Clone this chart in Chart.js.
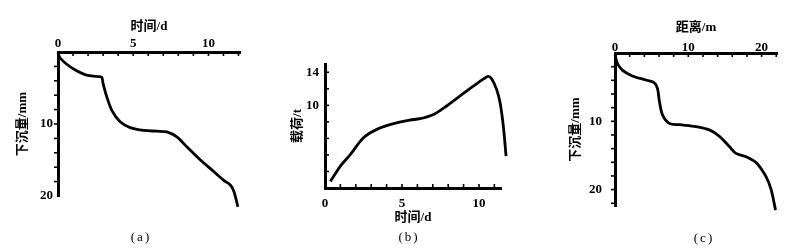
<!DOCTYPE html>
<html>
<head>
<meta charset="utf-8">
<script src="https://cdn.jsdelivr.net/npm/chart.js@4/dist/chart.umd.min.js"></script>
<style>
  html, body { margin: 0; padding: 0; background: #fff; }
  #wrap { position: relative; width: 801px; height: 251px; overflow: hidden; }
  canvas { position: absolute; top: 0; }
  .cap { position: absolute; font: 13px "Liberation Serif", serif; letter-spacing: 2px; transform: translate(-50%, -50%); }
</style>
</head>
<body>
<div id="wrap">
  <canvas id="ca" width="267" height="251" style="left:0"></canvas>
  <canvas id="cb" width="267" height="251" style="left:267px"></canvas>
  <canvas id="cc" width="267" height="251" style="left:534px"></canvas>
  <div class="cap" style="left:141px;top:237px">(a)</div>
  <div class="cap" style="left:409px;top:237px">(b)</div>
  <div class="cap" style="left:704px;top:238px">(c)</div>
</div>
<script>
"use strict";

// (a) settlement vs time
const timeA   = [0, 0.13, 0.58, 1.24, 1.9, 2.58, 2.9, 3.0, 3.24, 3.58, 4.13, 4.8, 5.7, 6.58, 7.24, 7.9, 8.58, 9.47, 10.13, 11.0, 11.47, 11.7, 11.96];
const settleA = [0.1, 0.8, 1.7, 2.6, 3.2, 3.4, 3.5, 4.4, 6.2, 8.1, 9.7, 10.5, 10.9, 11.0, 11.1, 11.8, 13.2, 15.0, 16.2, 17.8, 18.5, 19.4, 21.5];
const xTicksA = [0, 5, 10];
const yTicksA = [10, 20];

// (b) load vs time
const timeB  = [0.35, 1.0, 1.65, 2.5, 3.37, 4.45, 5.5, 6.17, 7.05, 7.9, 8.77, 9.65, 10.3, 10.6, 10.83, 11.15, 11.37, 11.58, 11.76];
const loadB  = [0.8, 2.65, 4.06, 6.08, 7.09, 7.78, 8.22, 8.38, 8.9, 9.92, 11.13, 12.34, 13.2, 13.5, 13.2, 11.9, 10.3, 7.5, 3.85];
const xTicksB = [0, 5, 10];
const yTicksB = [10, 14];

// (c) settlement vs distance
const distC   = [0, 0.32, 1.0, 2.37, 4.2, 5.34, 5.8, 6.03, 6.48, 7.4, 8.77, 11.05, 12.88, 14.25, 15.6, 16.5, 17.9, 19.3, 20.6, 21.3, 21.9];
const settleC = [0.3, 1.5, 2.5, 3.36, 3.95, 4.34, 5.2, 6.9, 9.06, 10.3, 10.5, 10.77, 11.26, 12.2, 13.7, 14.7, 15.2, 16.1, 18.1, 20.0, 23.0];
const xTicksC = [0, 10, 20];
const yTicksC = [10, 20];

const FONT = '"Liberation Serif", "Noto Sans CJK SC", serif';
const tickFont  = { family: FONT, size: 13, weight: 'bold' };
const titleFont = { family: FONT, size: 13, weight: 'bold' };

const points = (xs, ys) => xs.map((x, i) => ({ x: x, y: ys[i] }));
const fixTicks = (vals) => (scale) => { scale.ticks = vals.map(v => ({ value: v })); };

// small inner tick marks along the thick axes
const minorTicks = {
  id: 'minorTicks',
  afterDatasetsDraw(chart, args, opts) {
    const ctx = chart.ctx, area = chart.chartArea;
    ctx.save();
    ctx.strokeStyle = '#000';
    ctx.lineWidth = 1.6;
    (opts.axes || []).forEach(a => {
      const scale = chart.scales[a.id];
      for (let v = scale.min + a.step; v < scale.max; v += a.step) {
        const p = scale.getPixelForValue(v);
        ctx.beginPath();
        if (scale.isHorizontal()) {
          const e = a.dir > 0 ? area.top : area.bottom;
          ctx.moveTo(p, e); ctx.lineTo(p, e + a.dir * 4);
        } else {
          ctx.moveTo(area.left, p); ctx.lineTo(area.left + a.dir * 4, p);
        }
        ctx.stroke();
      }
    });
    ctx.restore();
  }
};

function axis(opts, text, pad) {
  return Object.assign({
    type: 'linear',
    grid: { display: false, drawTicks: false },
    border: { color: '#000', width: 3 },
    ticks: { color: '#000', padding: pad, font: tickFont },
    title: { display: true, text: text, color: '#000', padding: 0, font: titleFont },
  }, opts);
}

function makeChart(id, data, scales, padding, minor) {
  return new Chart(document.getElementById(id), {
    type: 'scatter',
    data: {
      datasets: [{
        data: data,
        showLine: true,
        pointRadius: 0,
        borderColor: '#000',
        borderWidth: 2.8,
        tension: 0.3,
        clip: false,
      }],
    },
    options: {
      responsive: false,
      animation: false,
      layout: { padding: padding },
      plugins: { legend: { display: false }, tooltip: { enabled: false }, minorTicks: { axes: minor } },
      scales: scales,
    },
    plugins: [minorTicks],
  });
}

makeChart('ca', points(timeA, settleA), {
  x: axis({
    position: 'top', min: 0, max: 12.1,
    afterBuildTicks: fixTicks(xTicksA),
    afterFit: (s) => { s.height = 33; },
  }, '时间/d', 1),
  y: axis({
    reverse: true, min: 0, max: 20,
    afterBuildTicks: fixTicks(yTicksA),
    afterFit: (s) => { s.width = 43.2; },
  }, '下沉量/mm', 5),
}, { left: 14.8, top: 19, right: 27, bottom: 55 },
[{ id: 'x', step: 1, dir: 1 }, { id: 'y', step: 2, dir: -1 }]);

// drawn end-to-start so the points past the axis end (x > max) are not trimmed
makeChart('cb', points(timeB, loadB).reverse(), {
  x: axis({
    position: 'bottom', min: 0, max: 11.43,
    afterBuildTicks: fixTicks(xTicksB),
    afterFit: (s) => { s.height = 37.5; },
  }, '时间/d', 8),
  y: axis({
    min: 0, max: 15,
    afterBuildTicks: fixTicks(yTicksB),
    afterFit: (s) => { s.width = 35.2; },
  }, '载荷/t', 6),
}, { left: 22.8, top: 64, right: 33, bottom: 25.5 },
[{ id: 'x', step: 1, dir: -1 }, { id: 'y', step: 2, dir: 1 }]);

makeChart('cc', points(distC, settleC), {
  x: axis({
    position: 'top', min: 0, max: 22.1,
    afterBuildTicks: fixTicks(xTicksC),
    afterFit: (s) => { s.height = 33; },
  }, '距离/m', -2),
  y: axis({
    reverse: true, min: 0, max: 22.4,
    afterBuildTicks: fixTicks(yTicksC),
    afterFit: (s) => { s.width = 47.2; },
  }, '下沉量/mm', 13),
}, { left: 33.8, top: 20, right: 24, bottom: 45 },
[{ id: 'x', step: 2, dir: 1 }, { id: 'y', step: 2, dir: -1 }]);
</script>
</body>
</html>
